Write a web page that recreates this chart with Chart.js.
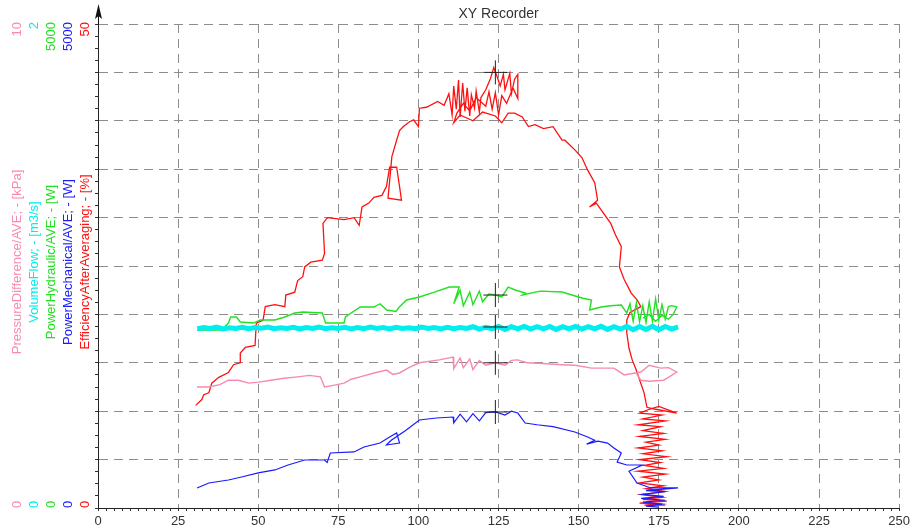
<!DOCTYPE html>
<html>
<head>
<meta charset="utf-8">
<script src="https://cdn.jsdelivr.net/npm/chart.js@4.4.1/dist/chart.umd.min.js"></script>
<style>
  html, body { margin: 0; padding: 0; background: #fff; }
  #wrap { width: 913px; height: 531px; }
</style>
</head>
<body>
<div id="wrap"><canvas id="xy"></canvas></div>
<script>
// Efficiency (%), red
const redX = [30.5, 32.4, 33, 34.6, 35.5, 37.7, 40.7, 42.3, 44.4, 44.4, 46, 49, 49.4, 51.5, 52.2, 55.2, 58.3, 58.6, 61.4, 62.3,
  63.9, 64.5, 66.4, 70, 70.7, 70.2, 71.6, 76.8, 79.9, 81.5, 82.4, 84.5, 86.1, 88.6, 90, 91, 93.2, 94.1, 94.7, 90.5,
  91.7, 93.2, 94.1, 95.3, 97.2, 98.5, 100, 100.3, 102.5, 106, 108, 109.5, 110.5, 111, 111.8, 112.5, 113, 113.8, 114.5, 115.2,
  116, 116.5, 117.5, 118, 119, 119.5, 121, 122.5, 123.5, 124.5, 125.5, 126.5, 127, 128.5, 129, 130, 131, 131, 129.5, 127.5,
  126, 125, 124, 123, 122, 121, 118, 116, 114, 112, 111, 113, 117, 120, 124, 126, 128, 130, 132.4, 134.3,
  136.4, 139, 142, 144.8, 145.7, 148.8, 151, 152.8, 155, 155.9, 153.4, 155.5, 157, 160, 161.5, 163.3, 162.7, 164.2, 166.4, 168.2,
  169.4, 166, 165, 165, 165.7, 166.7, 167.9, 170.4, 171.3, 174, 180.6, 175,
  172, 169, 176, 170, 177, 168.5, 175.5, 170, 176.5, 169, 177, 171, 175, 168.5, 176, 170, 177.5, 169, 175.5, 170.5,
  176.5, 168.5, 177, 170, 175, 169, 176.5, 171, 177, 169.5, 176, 170, 177.5, 169, 176, 170.5, 177];
const redY = [10.6, 11.2, 11.7, 11.9, 12.9, 13.5, 14.0, 14.8, 15.0, 16.0, 16.6, 16.8, 19.1, 19.4, 20.8, 21.0, 20.8, 22.0, 22.3, 23.5,
  23.9, 24.9, 25.4, 25.6, 26.3, 29.4, 30.0, 29.8, 30.0, 29.2, 31.1, 31.5, 32.1, 32.3, 33.2, 35.2, 35.2, 33.2, 31.8, 32.0,
  36.3, 38.0, 39.0, 39.4, 39.9, 40.1, 39.4, 41.3, 41.4, 42.0, 41.6, 42.8, 40.6, 43.6, 41.2, 44.2, 40.4, 43.9, 41.0, 43.4,
  40.5, 42.7, 41.3, 43.1, 40.9, 42.4, 43.2, 44.4, 45.5, 44.6, 43.6, 44.8, 43.2, 44.9, 42.8, 44.3, 44.8, 42.3, 43.4, 41.8,
  42.6, 40.6, 42.9, 41.2, 43.0, 41.5, 42.4, 41.0, 41.8, 40.8, 39.8, 40.6, 40.0, 40.9, 40.5, 39.8, 40.8, 40.8, 40.4, 39.4,
  39.6, 39.2, 39.4, 38.0, 38.0, 37.0, 36.2, 34.9, 33.6, 31.8, 31.1, 31.5, 30.8, 29.4, 28.2, 27.0, 24.9, 23.6, 22.2, 21.5,
  20.8, 20.2, 19.4, 18.1, 16.5, 15.3, 14.3, 11.9, 10.4, 10.2, 9.8, 10.5,
  10.2, 9.8, 9.6, 9.2, 9.0, 8.6, 8.4, 8.0, 7.7, 7.4, 7.1, 6.8, 6.5, 6.2, 5.9, 5.6, 5.3, 5.0, 4.7, 4.4,
  4.1, 3.8, 3.5, 3.2, 2.9, 2.6, 2.3, 2.0, 1.7, 1.4, 1.1, 0.9, 0.7, 0.5, 0.4, 0.3, 0.3];

// PowerHydraulic (W), green
const greenX = [30.9, 38.6, 40.7, 41.4, 43.2, 44.4, 48.5, 50.6, 55.2, 58.3, 61.4, 63.9, 70, 71, 76.8, 77.2, 81.8, 86.1, 88, 90.1,
  93, 94.1, 96.3, 100.3, 105, 109.6, 112.7, 111, 113, 114, 116, 117, 119, 120, 122, 124, 126, 128, 130.2, 133.3,
  132.4, 138, 144.8, 151, 154, 153.4, 157, 160, 163.3, 165,
  166, 167, 168, 169, 170, 171, 172, 173, 174, 175, 176, 177, 178, 179, 180.6, 179.5, 178, 176, 174, 172, 170];
const greenY = [1839, 1839, 1911, 1973, 1973, 1921, 1911, 1942, 1942, 1973, 2014, 2025, 2014, 1911, 1911, 1973, 2076, 2076, 2110, 2045,
  2030, 2080, 2149, 2180, 2230, 2283, 2283, 2110, 2250, 2090, 2230, 2100, 2240, 2130, 2210, 2200, 2180, 2283, 2252, 2220,
  2200, 2240, 2231, 2169, 2149, 2045, 2076, 2090, 2097, 2014,
  2110, 1930, 2120, 1925, 2090, 1915, 2130, 1930, 2160, 1940, 2100, 1950, 2080, 2090, 2076, 2000, 1950, 1990, 1930, 2000, 1960];

// VolumeFlow (m3/s), cyan
const cyanX = [31, 33, 35, 37, 39, 41, 43, 45, 47, 49, 51, 53, 55, 57, 59, 61, 63, 65, 67, 69,
  71, 73, 75, 77, 79, 81, 83, 85, 87, 89, 91, 93, 95, 97, 99, 101, 103, 105, 107, 109,
  111, 113, 115, 117, 119, 121, 123, 125, 127, 129, 131, 133, 135, 137, 139, 141, 143, 145, 147, 149,
  151, 153, 155, 157, 159, 161, 163, 165, 167, 169, 171, 173, 175, 177, 179, 181];
const cyanY = [0.741, 0.746, 0.742, 0.748, 0.740, 0.745, 0.742, 0.747, 0.741, 0.746, 0.743, 0.748, 0.741, 0.745, 0.742, 0.747, 0.740, 0.746, 0.742, 0.748,
  0.741, 0.745, 0.742, 0.747, 0.740, 0.746, 0.741, 0.748, 0.742, 0.746, 0.740, 0.747, 0.742, 0.745, 0.741, 0.748, 0.742, 0.746, 0.740, 0.747,
  0.741, 0.746, 0.742, 0.749, 0.739, 0.747, 0.741, 0.750, 0.738, 0.749, 0.740, 0.750, 0.739, 0.749, 0.740, 0.750, 0.738, 0.749, 0.740, 0.750,
  0.739, 0.749, 0.740, 0.751, 0.738, 0.749, 0.739, 0.751, 0.737, 0.750, 0.738, 0.751, 0.737, 0.750, 0.739, 0.748];

// PressureDifference (kPa), pink
const pinkX = [30.9, 34.6, 38, 40.7, 43.8, 47, 50, 54, 58, 62.3, 66, 69.4, 70.7, 73.8, 76.8, 79, 81.8, 86.1, 90.1, 92,
  94.1, 97, 100.3, 106.5, 110.8, 111, 113, 114, 116, 117, 119, 121, 124, 127, 129, 131, 134, 140, 145, 148.8,
  154, 161, 164.2, 169.4, 172, 175.6, 178, 180.6, 178, 176.5, 172, 169.4, 168];
const pinkY = [2.5, 2.5, 2.55, 2.64, 2.64, 2.58, 2.6, 2.64, 2.68, 2.71, 2.74, 2.71, 2.5, 2.54, 2.58, 2.66, 2.71, 2.79, 2.85, 2.76,
  2.79, 2.9, 3.0, 3.06, 3.12, 2.88, 3.1, 2.9, 3.08, 2.86, 3.05, 2.95, 3.0, 2.95, 3.05, 3.06, 3.0, 2.98, 2.96, 2.95,
  2.89, 2.89, 2.75, 2.81, 2.95, 2.89, 2.9, 2.81, 2.7, 2.64, 2.62, 2.64, 2.78];

// PowerMechanical (W), blue
const blueX = [30.9, 34.6, 40.7, 44.8, 50, 55.2, 59.3, 64.5, 70.7, 71.5, 72.5, 79.9, 83, 88, 91, 93.2, 94.1, 90, 91.5, 96,
  100.3, 105.6, 110.8, 111, 113, 115, 117, 119, 121, 124, 127, 129, 131, 133.3, 137, 142, 148.8, 152.8, 155, 152.5,
  156, 159, 161, 163.3, 162, 165, 169.8, 165.7, 168.2, 172.5, 181, 171, 177, 170, 176.5, 169.5, 177, 170, 176, 171,
  175];
const blueY = [207, 258, 289, 320, 362, 393, 444, 496, 496, 470, 568, 579, 630, 671, 733, 775, 671, 651, 700, 800,
  909, 930, 940, 880, 970, 890, 975, 900, 985, 992, 960, 1000, 981, 878, 860, 840, 785, 733, 700, 660,
  690, 671, 620, 568, 475, 444, 444, 380, 258, 207, 207, 180, 170, 140, 120, 100, 80, 60, 40, 20,
  10];

// cursor crosses, one per axis (pink, cyan, green, blue, red)
const crossX = 124;
const crossY = [3.0, 0.748, 2200, 992, 45];

const axisIds = ['yP', 'yC', 'yG', 'yB', 'y'];
const axisNames = ['PressureDifference/AVE; - [kPa]', 'VolumeFlow; - [m3/s]', 'PowerHydraulic/AVE; - [W]',
  'PowerMechanical/AVE; - [W]', 'EfficiencyAfterAveraging; - [%]'];
const axisMax = [10, 2, 5000, 5000, 50];
const axisColors = ['#f78ab0', '#00eeee', '#22e022', '#1a1aff', '#ff1010'];

const pts = (xs, ys) => xs.map((x, i) => ({ x: x, y: ys[i] }));
const font = '"Liberation Sans", Arial, sans-serif';
Chart.defaults.font.family = font;

const line = (data, axis, color, width) => ({
  data: data,
  yAxisID: axis,
  showLine: true,
  borderColor: color,
  backgroundColor: color,
  borderWidth: width,
  pointRadius: 0,
  fill: false,
});

const crosses = axisIds.map((id, i) => ({
  data: [{ x: crossX, y: crossY[i] }],
  yAxisID: id,
  pointStyle: 'cross',
  pointRadius: 12,
  pointBorderColor: '#222',
  pointBorderWidth: 1,
  showLine: false,
}));

const sideScale = (i) => ({
  type: 'linear',
  position: 'left',
  min: 0,
  max: axisMax[i],
  weight: 10 - i,
  ticks: { display: false },
  grid: { display: false },
  border: { display: false },
  afterFit: (s) => { s.width = 17; },
});

const scales = {
  x: {
    type: 'linear',
    min: 0,
    max: 250,
    ticks: {
      stepSize: 2.5,
      autoSkip: false,
      maxRotation: 0,
      padding: 3,
      color: '#333',
      font: { size: 13 },
      callback: (v) => (v % 25 === 0 ? String(v) : ''),
    },
    grid: {
      color: (c) => (c.tick && c.tick.value % 25 === 0 && c.tick.value > 0 ? '#8c8c8c' : 'rgba(0,0,0,0)'),
      tickColor: '#333',
      tickLength: 3,
    },
    border: { color: '#222', dash: [9, 6] },
    afterFit: (s) => { s.height = 23; },
  },
  yP: sideScale(0),
  yC: sideScale(1),
  yG: sideScale(2),
  yB: sideScale(3),
  y: {
    type: 'linear',
    position: 'left',
    min: 0,
    max: 50,
    weight: 6,
    ticks: { display: false, stepSize: 1.25, autoSkip: false },
    grid: {
      color: (c) => (c.tick && c.tick.value % 5 === 0 && c.tick.value > 0 ? '#8c8c8c' : 'rgba(0,0,0,0)'),
      tickColor: '#333',
      tickLength: 3,
    },
    border: { color: '#222', dash: [9, 6] },
    afterFit: (s) => { s.width = 17; },
  },
};

// rotated axis texts in each side column + arrow on the main axis
const sideLabels = {
  id: 'sideLabels',
  afterDraw(chart) {
    const { ctx, chartArea } = chart;
    ctx.save();
    ctx.font = '13px ' + font;
    axisIds.forEach((id, i) => {
      const s = chart.scales[id];
      const x = s.right - 13;
      const put = (txt, y, align) => {
        ctx.save();
        ctx.translate(x, y);
        ctx.rotate(-Math.PI / 2);
        ctx.textAlign = align;
        ctx.textBaseline = 'middle';
        ctx.fillStyle = axisColors[i];
        ctx.fillText(txt, 0, 0);
        ctx.restore();
      };
      put(String(s.max), s.getPixelForValue(s.max) - 2, 'right');
      put(String(s.min), s.getPixelForValue(s.min), 'left');
      put(axisNames[i], (chartArea.top + chartArea.bottom) / 2 - 4, 'center');
    });
    const ax = chart.scales.y.right;
    ctx.strokeStyle = '#111';
    ctx.fillStyle = '#111';
    ctx.lineWidth = 1;
    ctx.beginPath();
    ctx.moveTo(ax + 0.5, chartArea.top);
    ctx.lineTo(ax + 0.5, 16);
    ctx.stroke();
    ctx.beginPath();
    ctx.moveTo(ax + 0.5, 4);
    ctx.lineTo(ax + 4, 19);
    ctx.lineTo(ax + 0.5, 16);
    ctx.lineTo(ax - 3, 19);
    ctx.closePath();
    ctx.fill();
    ctx.restore();
  },
};

new Chart(document.getElementById('xy'), {
  type: 'scatter',
  data: {
    datasets: [
      ...crosses,
      line(pts(blueX, blueY), 'yB', '#1a1aff', 1.2),
      line(pts(cyanX, cyanY), 'yC', '#00eeee', 5),
      line(pts(pinkX, pinkY), 'yP', '#f78ab0', 1.4),
      line(pts(greenX, greenY), 'yG', '#22e022', 1.4),
      line(pts(redX, redY), 'y', '#ff1010', 1.3),
    ],
  },
  options: {
    responsive: true,
    maintainAspectRatio: false,
    animation: false,
    layout: { padding: { left: 13, right: 5, top: 0, bottom: 0 } },
    scales: scales,
    plugins: {
      legend: { display: false },
      tooltip: { enabled: false },
      title: {
        display: true,
        text: 'XY Recorder',
        color: '#333',
        fullSize: false,
        font: { size: 14, weight: 'normal' },
        padding: { top: 6, bottom: 1.2 },
      },
    },
  },
  plugins: [sideLabels],
});
</script>
</body>
</html>
